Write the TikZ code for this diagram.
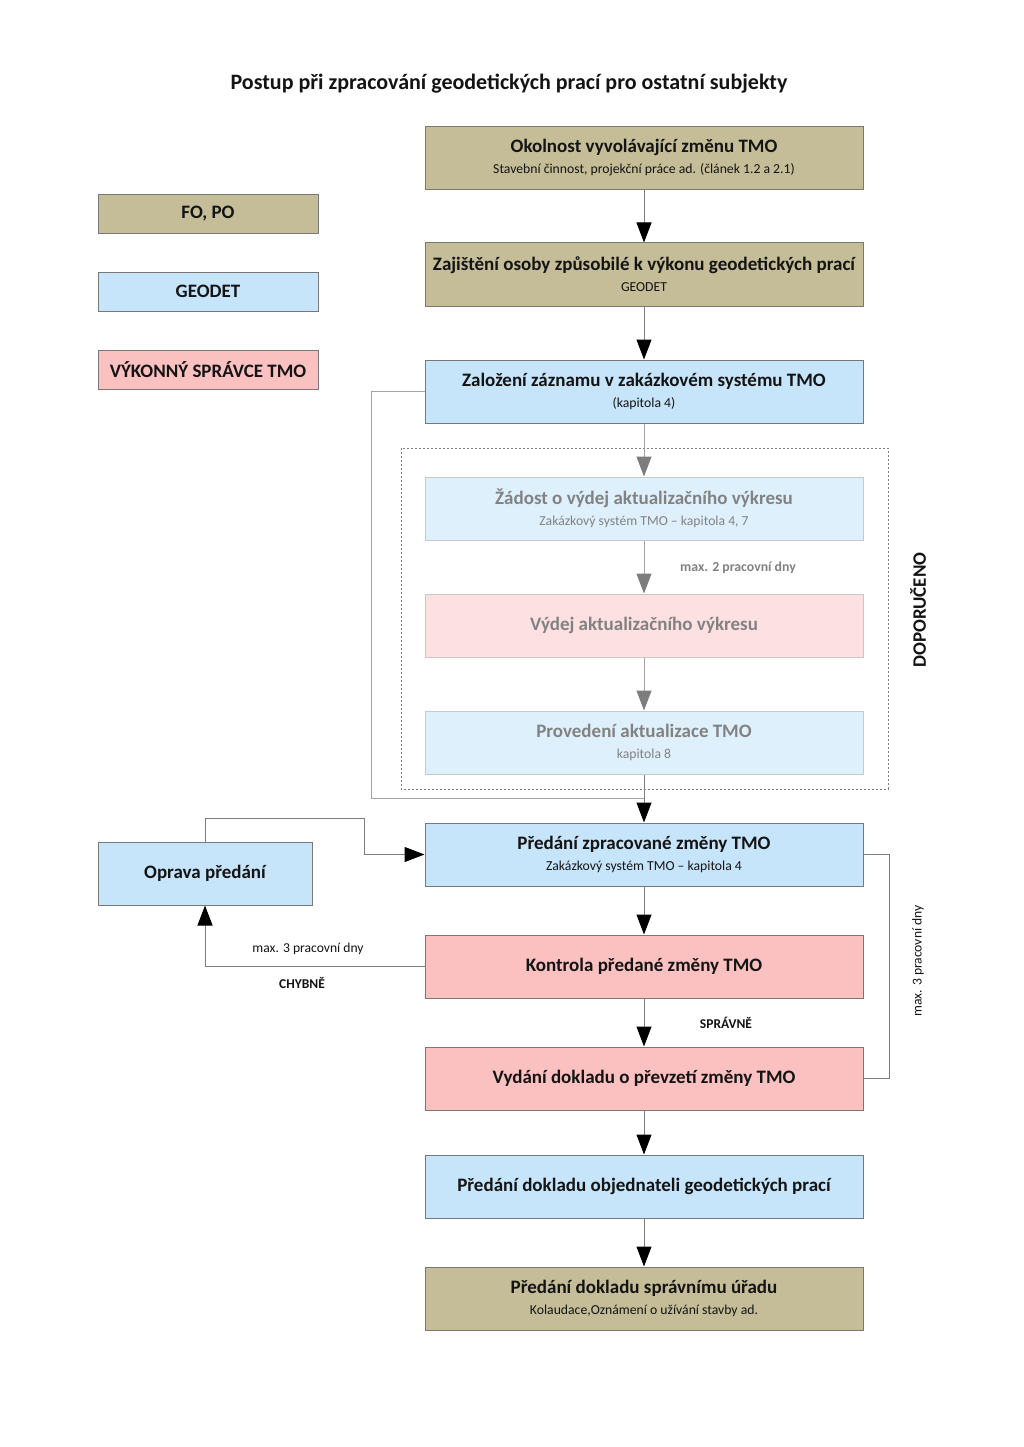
\documentclass[tikz,border=0pt]{standalone}
\usepackage{fontspec}
\setmainfont{Carlito}
\usetikzlibrary{arrows.meta}

\definecolor{olivefill}{RGB}{196,189,151}
\definecolor{bluefill}{RGB}{198,228,250}
\definecolor{pinkfill}{RGB}{251,192,192}
\definecolor{palebluefill}{RGB}{222,240,252}
\definecolor{palepinkfill}{RGB}{253,224,226}
\definecolor{boxline}{RGB}{120,120,120}
\definecolor{paleline}{RGB}{200,200,200}
\definecolor{paletext}{RGB}{130,130,130}
\definecolor{linegrey}{RGB}{125,125,125}
\definecolor{textdark}{RGB}{20,20,20}

\newcommand{\detail}[1]{{\fontsize{13.7}{16}\selectfont\mdseries #1}}

\begin{document}
\begin{tikzpicture}[x=1pt, y=-1pt, line width=1pt]
      \tikzstyle{every node}=[font=\fontsize{19}{21}\selectfont\bfseries, text=textdark]
      \tikzstyle{box}=[draw=boxline, minimum width=438pt, minimum height=63pt, align=center, inner sep=0pt]
      \tikzstyle{fobox}=[box, fill=olivefill]
      \tikzstyle{geobox}=[box, fill=bluefill]
      \tikzstyle{tmobox}=[box, fill=pinkfill]
      \tikzstyle{palegeo}=[box, draw=paleline, fill=palebluefill, text=paletext]
      \tikzstyle{paletmo}=[box, draw=paleline, fill=palepinkfill, text=paletext]
      \tikzstyle{legend}=[draw=boxline, minimum width=220pt, minimum height=39pt, inner sep=0pt]
      \tikzstyle{flow}=[draw=linegrey, -{Triangle[length=20pt, width=15pt, color=black]}]
      \tikzstyle{paleflow}=[draw=linegrey!70, -{Triangle[length=20pt, width=15pt, color=linegrey]}]
      \tikzstyle{note}=[font=\fontsize{13.6}{16}\selectfont]
      \tikzstyle{verdict}=[font=\fontsize{13.5}{16}\selectfont\bfseries]
      \useasboundingbox[fill=white] (0,0) rectangle (1024,1447);

      \node (title) at (509,84) {\fontsize{22}{26}\selectfont Postup při zpracování geodetických prací pro ostatní subjekty};

      % legenda
      \node [legend, fill=olivefill] (lfo) at (208,214) {FO, PO};
      \node [legend, fill=bluefill] (lgeo) at (208,291.5) {GEODET};
      \node [legend, fill=pinkfill] (ltmo) at (208,369.5) {VÝKONNÝ SPRÁVCE TMO};

      % hlavni postup
      \node [fobox] (okolnost) at (644,158) {Okolnost vyvolávající změnu TMO\\\detail{Stavební činnost, projekční práce ad. (článek 1.2 a 2.1)}};
      \node [fobox] (zajisteni) at (644,274.5) {Zajištění osoby způsobilé k výkonu geodetických prací\\\detail{GEODET}};
      \node [geobox] (zalozeni) at (644,391.5) {Založení záznamu v zakázkovém systému TMO\\\detail{(kapitola 4)}};
      \node [palegeo] (zadost) at (644,508.5) {Žádost o výdej aktualizačního výkresu\\\detail{Zakázkový systém TMO -- kapitola 4, 7}};
      \node [paletmo] (vydej) at (644,625.5) {Výdej aktualizačního výkresu};
      \node [palegeo] (provedeni) at (644,742.5) {Provedení aktualizace TMO\\\detail{kapitola 8}};
      \node [geobox] (predani) at (644,854.5) {Předání zpracované změny TMO\\\detail{Zakázkový systém TMO -- kapitola 4}};
      \node [tmobox] (kontrola) at (644,966.5) {Kontrola předané změny TMO};
      \node [tmobox] (vydani) at (644,1078.5) {Vydání dokladu o převzetí změny TMO};
      \node [geobox] (objednatel) at (644,1186.5) {Předání dokladu objednateli geodetických prací};
      \node [fobox] (urad) at (644,1298.5) {Předání dokladu správnímu úřadu\\\detail{Kolaudace,Oznámení o užívání stavby ad.}};
      \node [box, fill=bluefill, minimum width=214pt] (oprava) at (205,873.5) {Oprava předání};

      % doporucena cast
      \draw [linegrey, line width=0.8pt, dash pattern=on 2pt off 2pt] (401,448) rectangle (888,789);
      \node [rotate=90, font=\fontsize{19}{22}\selectfont\bfseries] (doporuceno) at (918,610) {DOPORUČENO};
      \node [verdict, font=\fontsize{13.8}{16}\selectfont\bfseries, text=paletext] (lhuta2) at (738,568) {max. 2 pracovní dny};

      \coordinate (join) at (644,798);
      \coordinate (bend1) at (364,818);

      \draw [flow] (okolnost) -- (zajisteni);
      \draw [flow] (zajisteni) -- (zalozeni);
      \draw [paleflow] (zalozeni) -- (zadost);
      \draw [paleflow] (zadost) -- (vydej);
      \draw [paleflow] (vydej) -- (provedeni);
      \draw [draw=linegrey!70] (zalozeni.west) -- ++(-53,0) |- (join);
      \draw [flow] (provedeni) -- (predani);
      \draw [flow] (predani) -- (kontrola);
      \draw [flow] (kontrola) -- (vydani);
      \draw [flow] (vydani) -- (objednatel);
      \draw [flow] (objednatel) -- (urad);
      \draw [flow] (kontrola.west) -| (oprava.south);
      \draw [flow] (oprava.north) |- (bend1) |- (predani.west);
      \draw [draw=linegrey] (predani.east) -- ++(26,0) |- (vydani.east);

      \node [note] (lhuta3) at (308,949) {max. 3 pracovní dny};
      \node [verdict] (chybne) at (302,983) {CHYBNĚ};
      \node [verdict] (spravne) at (726,1023) {SPRÁVNĚ};
      \node [note, rotate=90] (lhuta3b) at (918,961) {max. 3 pracovní dny};
    \end{tikzpicture}
\end{document}
